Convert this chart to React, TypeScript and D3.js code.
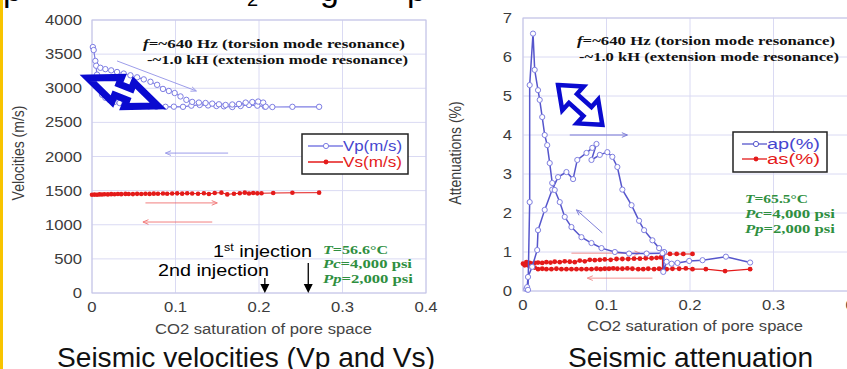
import React from "react";
import * as d3 from "d3";

const SANS = "'Liberation Sans', Arial, Helvetica, sans-serif";
const SERIF = "'Liberation Serif', 'Times New Roman', serif";

// ---------- Left chart: velocities ----------
const velTicks = [0, 500, 1000, 1500, 2000, 2500, 3000, 3500, 4000];
const satTicks = [0, 0.1, 0.2, 0.3, 0.4];

// Vp, branch with steep drop then flat
const vpAX = [0.001, 0.002, 0.004, 0.006, 0.009, 0.012, 0.016, 0.021, 0.027, 0.033, 0.04, 0.049, 0.058, 0.068, 0.077, 0.088, 0.098, 0.109, 0.119, 0.129, 0.139, 0.149, 0.158, 0.168, 0.178, 0.188, 0.198, 0.207, 0.216, 0.24, 0.272];
const vpAY = [3604, 3560, 3400, 3200, 3018, 2905, 2860, 2828, 2800, 2784, 2765, 2745, 2740, 2735, 2730, 2728, 2730, 2728, 2745, 2755, 2748, 2740, 2735, 2725, 2740, 2755, 2745, 2730, 2725, 2728, 2728];
// Vp, upper branch
const vpBX = [0.005, 0.01, 0.016, 0.023, 0.03, 0.038, 0.046, 0.054, 0.062, 0.07, 0.078, 0.085, 0.092, 0.099, 0.106, 0.113, 0.12, 0.128, 0.136, 0.144, 0.152, 0.16, 0.168, 0.176, 0.184, 0.192, 0.199, 0.205, 0.208];
const vpBY = [3330, 3300, 3280, 3262, 3238, 3215, 3190, 3160, 3130, 3095, 3050, 2990, 2960, 2930, 2880, 2830, 2800, 2790, 2784, 2775, 2765, 2755, 2762, 2770, 2790, 2798, 2805, 2790, 2730];
// Vs
const vsX = [0, 0.003, 0.006, 0.009, 0.012, 0.015, 0.019, 0.023, 0.027, 0.031, 0.035, 0.04, 0.044, 0.049, 0.054, 0.059, 0.064, 0.069, 0.074, 0.079, 0.085, 0.09, 0.096, 0.102, 0.108, 0.114, 0.12, 0.127, 0.134, 0.14, 0.147, 0.155, 0.162, 0.17, 0.177, 0.183, 0.188, 0.193, 0.198, 0.203, 0.217, 0.24, 0.272];
const vsY = [1440, 1442, 1440, 1445, 1443, 1447, 1445, 1448, 1446, 1450, 1448, 1452, 1450, 1449, 1453, 1451, 1455, 1452, 1456, 1454, 1458, 1455, 1457, 1460, 1456, 1462, 1458, 1455, 1462, 1450, 1465, 1470, 1445, 1455, 1462, 1470, 1458, 1465, 1460, 1462, 1465, 1468, 1470];
// thin direction arrows [x1, y1, x2, y2]
const velArrowsBlue = [[0.03, 3400, 0.125, 2960], [0.163, 2050, 0.088, 2050]];
const velArrowsRed = [[0.064, 1320, 0.15, 1320], [0.144, 1040, 0.061, 1040]];
const injectionX = [0.207, 0.259];
const injectionTop = [220, 440];

// ---------- Right chart: attenuation ----------
const attTicks = [0, 1, 2, 3, 4, 5, 6, 7];
const apFX = [0.004, 0.005, 0.006, 0.011, 0.017, 0.018, 0.026, 0.035, 0.042, 0.052, 0.06, 0.065, 0.076, 0.083, 0.088, 0.082, 0.092, 0.101, 0.107, 0.113, 0.119, 0.13, 0.139, 0.145, 0.155, 0.163, 0.169, 0.168, 0.172, 0.178, 0.185, 0.199, 0.215, 0.243, 0.272];
const apFY = [0.05, 0.1, 0.36, 0.62, 1.05, 1.56, 2.08, 2.6, 2.92, 3.05, 2.87, 3.36, 3.54, 3.67, 3.77, 3.36, 3.49, 3.56, 3.44, 3.18, 2.6, 2.2, 1.8, 1.56, 1.3, 1.1, 1.0, 0.49, 0.75, 0.7, 0.72, 0.77, 0.79, 0.88, 0.73];
const apRX = [0.167, 0.148, 0.127, 0.11, 0.094, 0.082, 0.07, 0.058, 0.05, 0.044, 0.038, 0.035, 0.032, 0.029, 0.026, 0.023, 0.02, 0.018, 0.014, 0.012, 0.008, 0.008, 0.006];
const apRY = [0.97, 0.96, 0.96, 1.0, 1.1, 1.23, 1.38, 1.64, 1.9, 2.28, 2.59, 2.77, 3.28, 3.74, 4.0, 4.46, 4.9, 5.15, 5.67, 6.6, 5.28, 2.28, 0.03];
const asUpX = [0, 0.002, 0.004, 0.006, 0.008, 0.01, 0.014, 0.018, 0.023, 0.028, 0.033, 0.038, 0.044, 0.05, 0.056, 0.062, 0.068, 0.074, 0.08, 0.086, 0.092, 0.098, 0.105, 0.112, 0.119, 0.126, 0.133, 0.14, 0.147, 0.154, 0.16, 0.165, 0.168, 0.176, 0.184, 0.192, 0.203];
const asUpY = [0.7, 0.66, 0.74, 0.68, 0.72, 0.7, 0.72, 0.73, 0.72, 0.74, 0.73, 0.75, 0.74, 0.76, 0.75, 0.74, 0.78, 0.76, 0.8, 0.79, 0.8, 0.81, 0.8, 0.82, 0.82, 0.82, 0.83, 0.83, 0.84, 0.84, 0.85, 0.86, 0.95, 0.95, 0.95, 0.95, 0.95];
const asDownX = [0.167, 0.167, 0.172, 0.179, 0.187, 0.195, 0.203, 0.219, 0.242, 0.272];
const asDownY = [0.95, 0.55, 0.56, 0.57, 0.57, 0.58, 0.56, 0.56, 0.51, 0.56];
const asBackX = [0.163, 0.157, 0.15, 0.144, 0.138, 0.131, 0.125, 0.119, 0.113, 0.108, 0.103, 0.098, 0.093, 0.088, 0.082, 0.076, 0.07, 0.064, 0.058, 0.052, 0.046, 0.04, 0.034, 0.028, 0.023, 0.018, 0.014, 0.01, 0.006, 0.003];
const asBackY = [0.57, 0.56, 0.57, 0.56, 0.56, 0.57, 0.58, 0.57, 0.57, 0.58, 0.57, 0.57, 0.56, 0.57, 0.56, 0.56, 0.56, 0.56, 0.56, 0.56, 0.56, 0.57, 0.56, 0.56, 0.57, 0.56, 0.6, 0.62, 0.66, 0.68];
const attArrowsBlue = [[0.056, 4.0, 0.125, 4.0], [0.095, 1.49, 0.064, 2.08]];
const attArrowsRed = [[0.058, 0.97, 0.14, 0.97], [0.155, 0.33, 0.077, 0.33]];

// big hollow arrows [x1, y1, x2, y2] in data units
const velBigArrow = [-0.0048, 3150, 0.079, 2740];
const attBigArrow = [0.042, 5.28, 0.095, 4.26];

type P = [number, number];
const zip = (xs: number[], ys: number[]): P[] => xs.map((x, i) => [x, ys[i]]);

function headPath(x1: number, y1: number, x2: number, y2: number, len = 6, ang = 0.45) {
  const a = Math.atan2(y2 - y1, x2 - x1);
  const p1 = [x2 - len * Math.cos(a - ang), y2 - len * Math.sin(a - ang)];
  const p2 = [x2 - len * Math.cos(a + ang), y2 - len * Math.sin(a + ang)];
  return `M${p1[0]},${p1[1]}L${x2},${y2}L${p2[0]},${p2[1]}`;
}

function bigArrowPts(x1: number, y1: number, x2: number, y2: number, hl: number, hw: number, sw: number) {
  const L = Math.hypot(x2 - x1, y2 - y1);
  const a = Math.atan2(y2 - y1, x2 - x1);
  const cx = (x1 + x2) / 2, cy = (y1 + y2) / 2, h = L / 2;
  const pts = [[-h, 0], [-h + hl, -hw], [-h + hl, -sw], [h - hl, -sw], [h - hl, -hw], [h, 0], [h - hl, hw], [h - hl, sw], [-h + hl, sw], [-h + hl, hw]];
  return pts.map(([u, v]) => `${cx + u * Math.cos(a) - v * Math.sin(a)},${cy + u * Math.sin(a) + v * Math.cos(a)}`).join(" ");
}

const SX = 1.19;

function Tick({ x, y, anchor, children }: any) {
  return (
    <text transform={`translate(${x},${y}) scale(${SX},1)`} textAnchor={anchor} fontFamily={SANS} fontSize={14} fill="#3c3c3c">
      {children}
    </text>
  );
}

function FitText({ x, y, len, size, family = SANS, weight = "normal", fill = "#000", anchor = "start", children }: any) {
  return (
    <text x={x} y={y} textLength={len} lengthAdjust="spacingAndGlyphs" fontSize={size} fontFamily={family} fontWeight={weight} fill={fill} textAnchor={anchor}>
      {children}
    </text>
  );
}

export default function App() {
  const xL = d3.scaleLinear().domain([0, 0.4]).range([92, 426]);
  const yL = d3.scaleLinear().domain([0, 4000]).range([293, 20]);
  const xR = d3.scaleLinear().domain([0, 0.4]).range([523, 857]);
  const yR = d3.scaleLinear().domain([0, 7]).range([291, 18]);

  const lineL = d3.line<P>().x((d) => xL(d[0])).y((d) => yL(d[1]));
  const lineR = d3.line<P>().x((d) => xR(d[0])).y((d) => yR(d[1]));

  const grid = "#dadaf3";
  const frame = "#c4c4e6";
  const vpColor = "#7d7de3";
  const apColor = "#5656cc";
  const red = "#e41a1a";
  const green = "#2f8f3f";
  const bigBlue = "#0a0ad0";

  const vpA = zip(vpAX, vpAY), vpB = zip(vpBX, vpBY), vs = zip(vsX, vsY);
  const apF = zip(apFX, apFY), apR = zip(apRX, apRY);
  const asUp = zip(asUpX, asUpY), asDown = zip(asDownX, asDownY), asBack = zip(asBackX, asBackY);

  const thin = (arr: number[][], xs: any, ys: any, color: string, key: string) =>
    arr.map((a, i) => {
      const x1 = xs(a[0]), y1 = ys(a[1]), x2 = xs(a[2]), y2 = ys(a[3]);
      return (
        <g key={key + i} stroke={color} strokeWidth={1} fill="none" opacity={0.75}>
          <line x1={x1} y1={y1} x2={x2} y2={y2} />
          <path d={headPath(x1, y1, x2, y2, 6, 0.4)} />
        </g>
      );
    });

  return (
    <svg width={847} height={369} style={{ position: "absolute", left: 0, top: 0, background: "#fff" }}>
      <rect x={0} y={0} width={847} height={369} fill="#fff" />

      {/* cut-off slide title fragments */}
      <text x={3} y={1} fontSize={34} fontFamily={SANS} fill="#000">p</text>
      <text x={247} y={6} fontSize={20} fontFamily={SANS} fill="#000">2</text>
      <text x={320} y={1} fontSize={34} fontFamily={SANS} fill="#000">g</text>
      <text x={407} y={1} fontSize={34} fontFamily={SANS} fill="#000">p</text>

      {/* ================= LEFT CHART ================= */}
      <g>
        {velTicks.map((t) => (
          <line key={"lg" + t} x1={xL(0)} x2={xL(0.4)} y1={yL(t)} y2={yL(t)} stroke={grid} />
        ))}
        {satTicks.map((t) => (
          <line key={"lv" + t} x1={xL(t)} x2={xL(t)} y1={yL(0)} y2={yL(4000)} stroke={grid} />
        ))}
        <rect x={xL(0)} y={yL(4000)} width={xL(0.4) - xL(0)} height={yL(0) - yL(4000)} fill="none" stroke={frame} />
        {velTicks.map((t) => (
          <Tick key={"lt" + t} x={82} y={yL(t) + 5} anchor="end">{String(t)}</Tick>
        ))}
        {satTicks.map((t) => (
          <Tick key={"lx" + t} x={xL(t)} y={312} anchor="middle">{String(t)}</Tick>
        ))}
        <text transform={`translate(24,153) scale(${SX},1) rotate(-90)`} textAnchor="middle" fontFamily={SANS} fontSize={14} fill="#3c3c3c">
          Velocities (m/s)
        </text>
        <FitText x={263.5} y={334} len={217} size={14} fill="#444" anchor="middle">CO2 saturation of pore space</FitText>

        {thin(velArrowsBlue, xL, yL, vpColor, "vb")}
        {thin(velArrowsRed, xL, yL, "#ee5555", "vr")}

        {/* Vp */}
        <path d={lineL(vpA) || ""} fill="none" stroke={vpColor} strokeWidth={1.2} />
        <path d={lineL(vpB) || ""} fill="none" stroke={vpColor} strokeWidth={1.2} strokeDasharray="3,1.5" />
        {[...vpA, ...vpB].map((d, i) => (
          <circle key={"vpc" + i} cx={xL(d[0])} cy={yL(d[1])} r={2.7} fill="#fff" stroke={vpColor} strokeWidth={1} />
        ))}
        {/* Vs */}
        <path d={lineL(vs) || ""} fill="none" stroke={red} strokeWidth={1} />
        {vs.map((d, i) => (
          <circle key={"vsc" + i} cx={xL(d[0])} cy={yL(d[1])} r={2.3} fill={red} />
        ))}

        {/* big hollow double arrow */}
        <polygon
          points={bigArrowPts(xL(velBigArrow[0]), yL(velBigArrow[1]), xL(velBigArrow[2]), yL(velBigArrow[3]), 31, 13, 6)}
          fill="#fff" stroke={bigBlue} strokeWidth={7} strokeLinejoin="miter"
        />

        {/* legend */}
        <rect x={302} y={134} width={106} height={40} fill="#fff" stroke="#222" strokeWidth={1.5} />
        <line x1={308} x2={343} y1={146} y2={146} stroke={vpColor} strokeWidth={1.3} />
        <circle cx={326} cy={146} r={2.6} fill="#fff" stroke={vpColor} />
        <FitText x={343} y={151} len={59} size={14} fill="#4646cf">Vp(m/s)</FitText>
        <line x1={308} x2={343} y1={162} y2={162} stroke={red} strokeWidth={1.3} />
        <circle cx={326} cy={162} r={2.4} fill={red} />
        <FitText x={343} y={167} len={59} size={14} fill={red}>Vs(m/s)</FitText>

        {/* annotations */}
        <FitText x={143} y={48} len={262} size={13} family={SERIF} weight="bold" fill="#111">
          <tspan fontStyle="italic">f</tspan>=~640 Hz (torsion mode resonance)
        </FitText>
        <FitText x={147} y={64} len={261} size={13} family={SERIF} weight="bold" fill="#111">-~1.0 kH (extension mode resonance)</FitText>
        <FitText x={323} y={254} len={65} size={13} family={SERIF} weight="bold" fill={green}>
          <tspan fontStyle="italic">T</tspan>=56.6°C
        </FitText>
        <FitText x={323} y={268} len={89} size={13} family={SERIF} weight="bold" fill={green}>
          <tspan fontStyle="italic">Pc</tspan>=4,000 psi
        </FitText>
        <FitText x={323} y={283} len={90} size={13} family={SERIF} weight="bold" fill={green}>
          <tspan fontStyle="italic">Pp</tspan>=2,000 psi
        </FitText>

        <FitText x={213} y={257} len={99} size={16} fill="#000">
          1<tspan fontSize={10} dy={-6}>st</tspan><tspan dy={6}> injection</tspan>
        </FitText>
        <FitText x={158} y={276} len={111} size={16} fill="#000">2nd injection</FitText>
        {injectionX.map((x, i) => {
          const px = xL(x), y1 = yL(injectionTop[i]), y2 = yL(0);
          return (
            <g key={"inj" + i}>
              <line x1={px} x2={px} y1={y1} y2={y2 - 7} stroke="#000" strokeWidth={1.3} />
              <path d={`M${px - 4.5},${y2 - 9}L${px + 4.5},${y2 - 9}L${px},${y2}Z`} fill="#000" />
            </g>
          );
        })}
      </g>

      {/* ================= RIGHT CHART ================= */}
      <g>
        {attTicks.map((t) => (
          <line key={"rg" + t} x1={xR(0)} x2={xR(0.4)} y1={yR(t)} y2={yR(t)} stroke={grid} />
        ))}
        {satTicks.map((t) => (
          <line key={"rv" + t} x1={xR(t)} x2={xR(t)} y1={yR(0)} y2={yR(7)} stroke={grid} />
        ))}
        <rect x={xR(0)} y={yR(7)} width={xR(0.4) - xR(0)} height={yR(0) - yR(7)} fill="none" stroke={frame} />
        {attTicks.map((t) => (
          <Tick key={"rt" + t} x={512} y={yR(t) + 5} anchor="end">{String(t)}</Tick>
        ))}
        {satTicks.map((t) => (
          <Tick key={"rx" + t} x={xR(t)} y={310} anchor="middle">{String(t)}</Tick>
        ))}
        <text transform={`translate(461,153) scale(${SX},1) rotate(-90)`} textAnchor="middle" fontFamily={SANS} fontSize={14} fill="#3c3c3c">
          Attenuations (%)
        </text>
        <FitText x={695} y={331} len={216} size={14} fill="#444" anchor="middle">CO2 saturation of pore space</FitText>

        {thin(attArrowsBlue, xR, yR, apColor, "ab")}
        {thin(attArrowsRed, xR, yR, "#f07070", "ar")}

        {/* as */}
        {[asUp, asDown, asBack].map((s, k) => (
          <path key={"asl" + k} d={lineR(s) || ""} fill="none" stroke={red} strokeWidth={1.1} />
        ))}
        {[...asUp, ...asDown, ...asBack].map((d, i) => (
          <circle key={"asc" + i} cx={xR(d[0])} cy={yR(d[1])} r={2.4} fill={red} />
        ))}

        {/* ap */}
        <path d={lineR(apF) || ""} fill="none" stroke={apColor} strokeWidth={1.5} />
        <path d={lineR(apR) || ""} fill="none" stroke={apColor} strokeWidth={1.5} />
        {[...apF, ...apR].map((d, i) => (
          <circle key={"apc" + i} cx={xR(d[0])} cy={yR(d[1])} r={2.6} fill="#fff" stroke="#8080e0" strokeWidth={1} />
        ))}

        <polygon
          points={bigArrowPts(xR(attBigArrow[0]), yR(attBigArrow[1]), xR(attBigArrow[2]), yR(attBigArrow[3]), 20, 16, 6)}
          fill="#fff" stroke={bigBlue} strokeWidth={4.5} strokeLinejoin="miter"
        />

        {/* legend */}
        <rect x={733} y={132} width={94} height={40} fill="#fff" stroke="#222" strokeWidth={1.5} />
        <line x1={742} x2={767} y1={144} y2={144} stroke={apColor} strokeWidth={1.3} />
        <circle cx={756} cy={144} r={2.6} fill="#fff" stroke={apColor} />
        <FitText x={767} y={149} len={53} size={14} fill="#4646cf">ap(%)</FitText>
        <line x1={742} x2={767} y1={159} y2={159} stroke={red} strokeWidth={1.3} />
        <circle cx={756} cy={159} r={2.4} fill={red} />
        <FitText x={767} y={164} len={53} size={14} fill={red}>as(%)</FitText>

        <FitText x={577} y={45} len={258} size={13} family={SERIF} weight="bold" fill="#111">
          <tspan fontStyle="italic">f</tspan>=~640 Hz (torsion mode resonance)
        </FitText>
        <FitText x={579} y={61} len={260} size={13} family={SERIF} weight="bold" fill="#111">-~1.0 kH (extension mode resonance)</FitText>
        <FitText x={745} y={203} len={63} size={13} family={SERIF} weight="bold" fill={green}>
          <tspan fontStyle="italic">T</tspan>=65.5°C
        </FitText>
        <FitText x={745} y={218} len={90} size={13} family={SERIF} weight="bold" fill={green}>
          <tspan fontStyle="italic">Pc</tspan>=4,000 psi
        </FitText>
        <FitText x={745} y={233} len={90} size={13} family={SERIF} weight="bold" fill={green}>
          <tspan fontStyle="italic">Pp</tspan>=2,000 psi
        </FitText>
      </g>

      {/* captions */}
      <FitText x={57} y={367} len={378} size={28} fill="#111">Seismic velocities (Vp and Vs)</FitText>
      <FitText x={568} y={367} len={245} size={28} fill="#111">Seismic attenuation</FitText>

      {/* yellow slide bar */}
      <rect x={0} y={0} width={3} height={369} fill="#f8c400" />
    </svg>
  );
}
